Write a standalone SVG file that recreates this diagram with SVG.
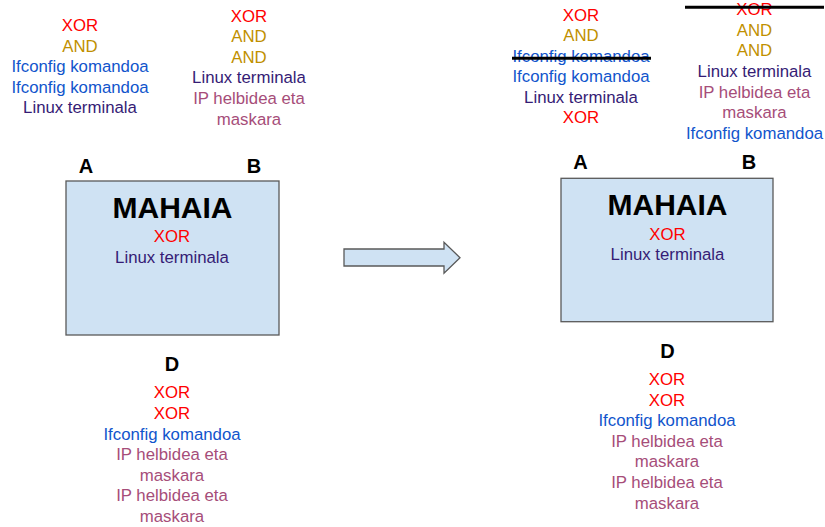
<svg xmlns="http://www.w3.org/2000/svg" width="825" height="527" viewBox="0 0 825 527">
  <style>
    text { font-family: "Liberation Sans", Arial, sans-serif; font-size: 16.8px; text-anchor: middle; }
    .lbl { font-size: 20px; font-weight: bold; fill: #000; }
    .title { font-size: 30px; font-weight: bold; fill: #000; }
    .xor { fill: #ff0000; }
    .and { fill: #bf9000; }
    .ifc { fill: #1155cc; }
    .lin { fill: #351c75; }
    .ip { fill: #a64d79; }
    .table { fill: #cfe2f3; stroke: #595959; stroke-width: 1.3; }
    .strike { stroke: #000; stroke-width: 3; }
  </style>
  <rect width="825" height="527" fill="#ffffff"/>

  <!-- Before: left arrangement -->
  <g id="before-A-items">
    <text x="80" y="31" class="xor">XOR</text>
    <text x="80" y="51.6" class="and">AND</text>
    <text x="80" y="72.2" class="ifc">Ifconfig komandoa</text>
    <text x="80" y="92.8" class="ifc">Ifconfig komandoa</text>
    <text x="80" y="113.4" class="lin">Linux terminala</text>
  </g>
  <g id="before-B-items">
    <text x="249" y="21.5" class="xor">XOR</text>
    <text x="249" y="42.1" class="and">AND</text>
    <text x="249" y="62.7" class="and">AND</text>
    <text x="249" y="83.3" class="lin">Linux terminala</text>
    <text x="249" y="103.9" class="ip">IP helbidea eta</text>
    <text x="249" y="124.5" class="ip">maskara</text>
  </g>
  <g id="before-table">
    <text x="86" y="172.5" class="lbl">A</text>
    <text x="254" y="172.5" class="lbl">B</text>
    <rect x="66" y="181" width="213" height="154" class="table"/>
    <text x="172.5" y="218" class="title">MAHAIA</text>
    <text x="172" y="242.3" class="xor">XOR</text>
    <text x="172" y="262.7" class="lin">Linux terminala</text>
  </g>
  <g id="before-D-items">
    <text x="172" y="371" class="lbl">D</text>
    <text x="172" y="398.3" class="xor">XOR</text>
    <text x="172" y="418.9" class="xor">XOR</text>
    <text x="172" y="439.5" class="ifc">Ifconfig komandoa</text>
    <text x="172" y="460.1" class="ip">IP helbidea eta</text>
    <text x="172" y="480.7" class="ip">maskara</text>
    <text x="172" y="501.3" class="ip">IP helbidea eta</text>
    <text x="172" y="521.9" class="ip">maskara</text>
  </g>

  <!-- Transition arrow -->
  <g id="connectors">
    <polygon points="344,249 444,249 444,242.3 460,257.7 444,273.3 444,266 344,266" class="table"/>
  </g>

  <!-- After: right arrangement -->
  <g id="after-A-items">
    <text x="581" y="20.7" class="xor">XOR</text>
    <text x="581" y="41.2" class="and">AND</text>
    <text x="581" y="61.7" class="ifc">Ifconfig komandoa</text>
    <line x1="512" y1="58.3" x2="651" y2="58.3" class="strike"/>
    <text x="581" y="82.2" class="ifc">Ifconfig komandoa</text>
    <text x="581" y="102.7" class="lin">Linux terminala</text>
    <text x="581" y="123.2" class="xor">XOR</text>
  </g>
  <g id="after-B-items">
    <text x="754.5" y="15.2" class="xor">XOR</text>
    <line x1="685" y1="7.3" x2="824" y2="7.3" class="strike"/>
    <text x="754.5" y="35.8" class="and">AND</text>
    <text x="754.5" y="56.4" class="and">AND</text>
    <text x="754.5" y="77" class="lin">Linux terminala</text>
    <text x="754.5" y="97.6" class="ip">IP helbidea eta</text>
    <text x="754.5" y="118.2" class="ip">maskara</text>
    <text x="754.5" y="138.8" class="ifc">Ifconfig komandoa</text>
  </g>
  <g id="after-table">
    <text x="580.5" y="169.3" class="lbl">A</text>
    <text x="749" y="169.3" class="lbl">B</text>
    <rect x="561" y="178.3" width="212" height="143.4" class="table"/>
    <text x="667.5" y="215" class="title">MAHAIA</text>
    <text x="667.5" y="240" class="xor">XOR</text>
    <text x="667.5" y="260.3" class="lin">Linux terminala</text>
  </g>
  <g id="after-D-items">
    <text x="667.5" y="357.7" class="lbl">D</text>
    <text x="667" y="385" class="xor">XOR</text>
    <text x="667" y="405.6" class="xor">XOR</text>
    <text x="667" y="426.2" class="ifc">Ifconfig komandoa</text>
    <text x="667" y="446.8" class="ip">IP helbidea eta</text>
    <text x="667" y="467.4" class="ip">maskara</text>
    <text x="667" y="488" class="ip">IP helbidea eta</text>
    <text x="667" y="508.6" class="ip">maskara</text>
  </g>
</svg>
